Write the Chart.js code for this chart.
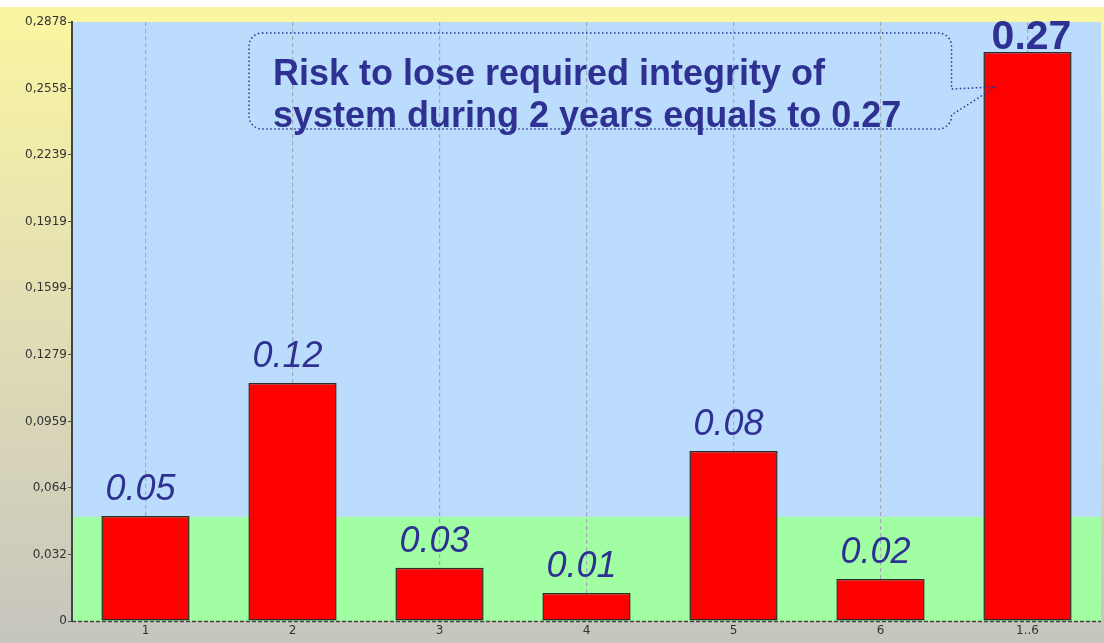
<!DOCTYPE html>
<html>
<head>
<meta charset="utf-8">
<script src="https://cdn.jsdelivr.net/npm/chart.js@4"></script>
<style>
  html, body { margin: 0; padding: 0; }
  body {
    width: 1104px; height: 643px; overflow: hidden;
    background: linear-gradient(#ffffff 0px, #ffffff 7px, #faf6a0 7px, #e4e0b4 45%, #c6c5be 100%);
  }
  #wrap { position: relative; width: 1104px; height: 643px; }
</style>
</head>
<body>
<div id="wrap"><canvas id="bar-chart" width="1104" height="643"></canvas></div>
<script>
const categories = ['1', '2', '3', '4', '5', '6', '1..6'];
const riskValues = [0.0505, 0.1144, 0.0256, 0.0135, 0.0817, 0.0202, 0.2734];
const barLabels = ['0.05', '0.12', '0.03', '0.01', '0.08', '0.02', '0.27'];
const tickValues = [0, 0.032, 0.064, 0.0959, 0.1279, 0.1599, 0.1919, 0.2239, 0.2558, 0.2878];
const tickLabels = ['0', '0,032', '0,064', '0,0959', '0,1279', '0,1599', '0,1919', '0,2239', '0,2558', '0,2878'];
const greenLimit = 0.05;
const calloutLines = ['Risk to lose required integrity of', 'system during 2 years equals to 0.27'];

const textBlue = '#2e3192';
const axisFont = { family: '"DejaVu Sans", Verdana, sans-serif', size: 12 };

// plot background: blue above the limit, green below
const zonePlugin = {
    id: 'zones',
    beforeDraw(chart) {
        const { ctx, chartArea } = chart;
        const yLimit = chart.scales.y.getPixelForValue(greenLimit);
        ctx.save();
        ctx.fillStyle = '#bbdcfc';
        ctx.fillRect(chartArea.left, chartArea.top, chartArea.right - chartArea.left, yLimit - chartArea.top);
        ctx.fillStyle = '#a1fea3';
        ctx.fillRect(chartArea.left, yLimit, chartArea.right - chartArea.left, chartArea.bottom - yLimit);
        ctx.restore();
    },
    afterDraw(chart) {
        // dashed bottom axis line
        const { ctx, chartArea } = chart;
        ctx.save();
        ctx.strokeStyle = '#444';
        ctx.lineWidth = 1.5;
        ctx.setLineDash([4, 2]);
        ctx.beginPath();
        ctx.moveTo(chartArea.left, chartArea.bottom + 0.5);
        ctx.lineTo(chartArea.right, chartArea.bottom + 0.5);
        ctx.stroke();
        ctx.restore();
    }
};

// value labels over the bars and the callout
const labelPlugin = {
    id: 'barLabels',
    afterDatasetsDraw(chart) {
        const { ctx, chartArea } = chart;
        const bars = chart.getDatasetMeta(0).data;
        ctx.save();
        ctx.fillStyle = textBlue;
        ctx.textAlign = 'center';
        ctx.textBaseline = 'alphabetic';
        bars.forEach((bar, i) => {
            const last = i === bars.length - 1;
            if (last) {
                ctx.font = 'bold 41px "Liberation Sans", Arial, sans-serif';
                ctx.fillText(barLabels[i], bar.x + 4, bar.y - 3);
            } else {
                ctx.font = 'italic 36px "Liberation Sans", Arial, sans-serif';
                ctx.fillText(barLabels[i], bar.x - 5, bar.y - 16);
            }
        });

        // callout box pointing to the last bar
        const last = bars[bars.length - 1];
        const l = chartArea.left + 177, t = chartArea.top + 11;
        const r = last.x - 76, b = chartArea.top + 107;
        const rad = 13;
        const tipX = last.x - 32, tipY = last.y + 35;
        ctx.strokeStyle = textBlue;
        ctx.lineWidth = 1.5;
        ctx.setLineDash([1.5, 2.5]);
        ctx.beginPath();
        ctx.moveTo(l + rad, t);
        ctx.lineTo(r - rad, t);
        ctx.arcTo(r, t, r, t + rad, rad);
        ctx.lineTo(r, tipY + 2);
        ctx.lineTo(tipX, tipY);
        ctx.lineTo(r, b - 14);
        ctx.arcTo(r, b, r - rad, b, rad);
        ctx.lineTo(l + rad, b);
        ctx.arcTo(l, b, l, b - rad, rad);
        ctx.lineTo(l, t + rad);
        ctx.arcTo(l, t, l + rad, t, rad);
        ctx.stroke();

        ctx.setLineDash([]);
        ctx.textAlign = 'left';
        ctx.font = 'bold 36px "Liberation Sans", Arial, sans-serif';
        ctx.fillText(calloutLines[0], l + 24, t + 52);
        ctx.fillText(calloutLines[1], l + 24, t + 94);
        ctx.restore();
    }
};

const ctx = document.getElementById('bar-chart').getContext('2d');
const barChart = new Chart(ctx, {
    type: 'bar',
    data: {
        labels: categories,
        datasets: [{
            data: riskValues,
            backgroundColor: '#ff0000',
            borderColor: '#2b2b2b',
            borderWidth: 1.5,
            borderSkipped: false,
            barPercentage: 0.6,
            categoryPercentage: 1
        }]
    },
    options: {
        responsive: false,
        animation: false,
        layout: { padding: { left: 0, top: 22, right: 3, bottom: 0 } },
        plugins: {
            legend: { display: false },
            tooltip: { enabled: false }
        },
        scales: {
            x: {
                grid: {
                    offset: false,
                    color: '#a3aab2',
                    lineWidth: 1.2,
                    drawTicks: false
                },
                border: { display: false, dash: [4, 3] },
                ticks: {
                    color: '#333',
                    padding: 3,
                    font: axisFont
                },
                afterFit(scale) { scale.height = 22; }
            },
            y: {
                min: 0,
                max: 0.2878,
                afterBuildTicks(axis) {
                    axis.ticks = tickValues.map(v => ({ value: v }));
                },
                grid: {
                    drawOnChartArea: false,
                    drawTicks: true,
                    tickLength: 4,
                    tickColor: '#555'
                },
                border: { display: true, color: '#444', width: 2 },
                ticks: {
                    color: '#333',
                    padding: 1,
                    autoSkip: false,
                    font: axisFont,
                    callback: (value, index) => tickLabels[index]
                },
                afterFit(scale) { scale.width = 72; }
            }
        }
    },
    plugins: [zonePlugin, labelPlugin]
});
</script>
</body>
</html>
